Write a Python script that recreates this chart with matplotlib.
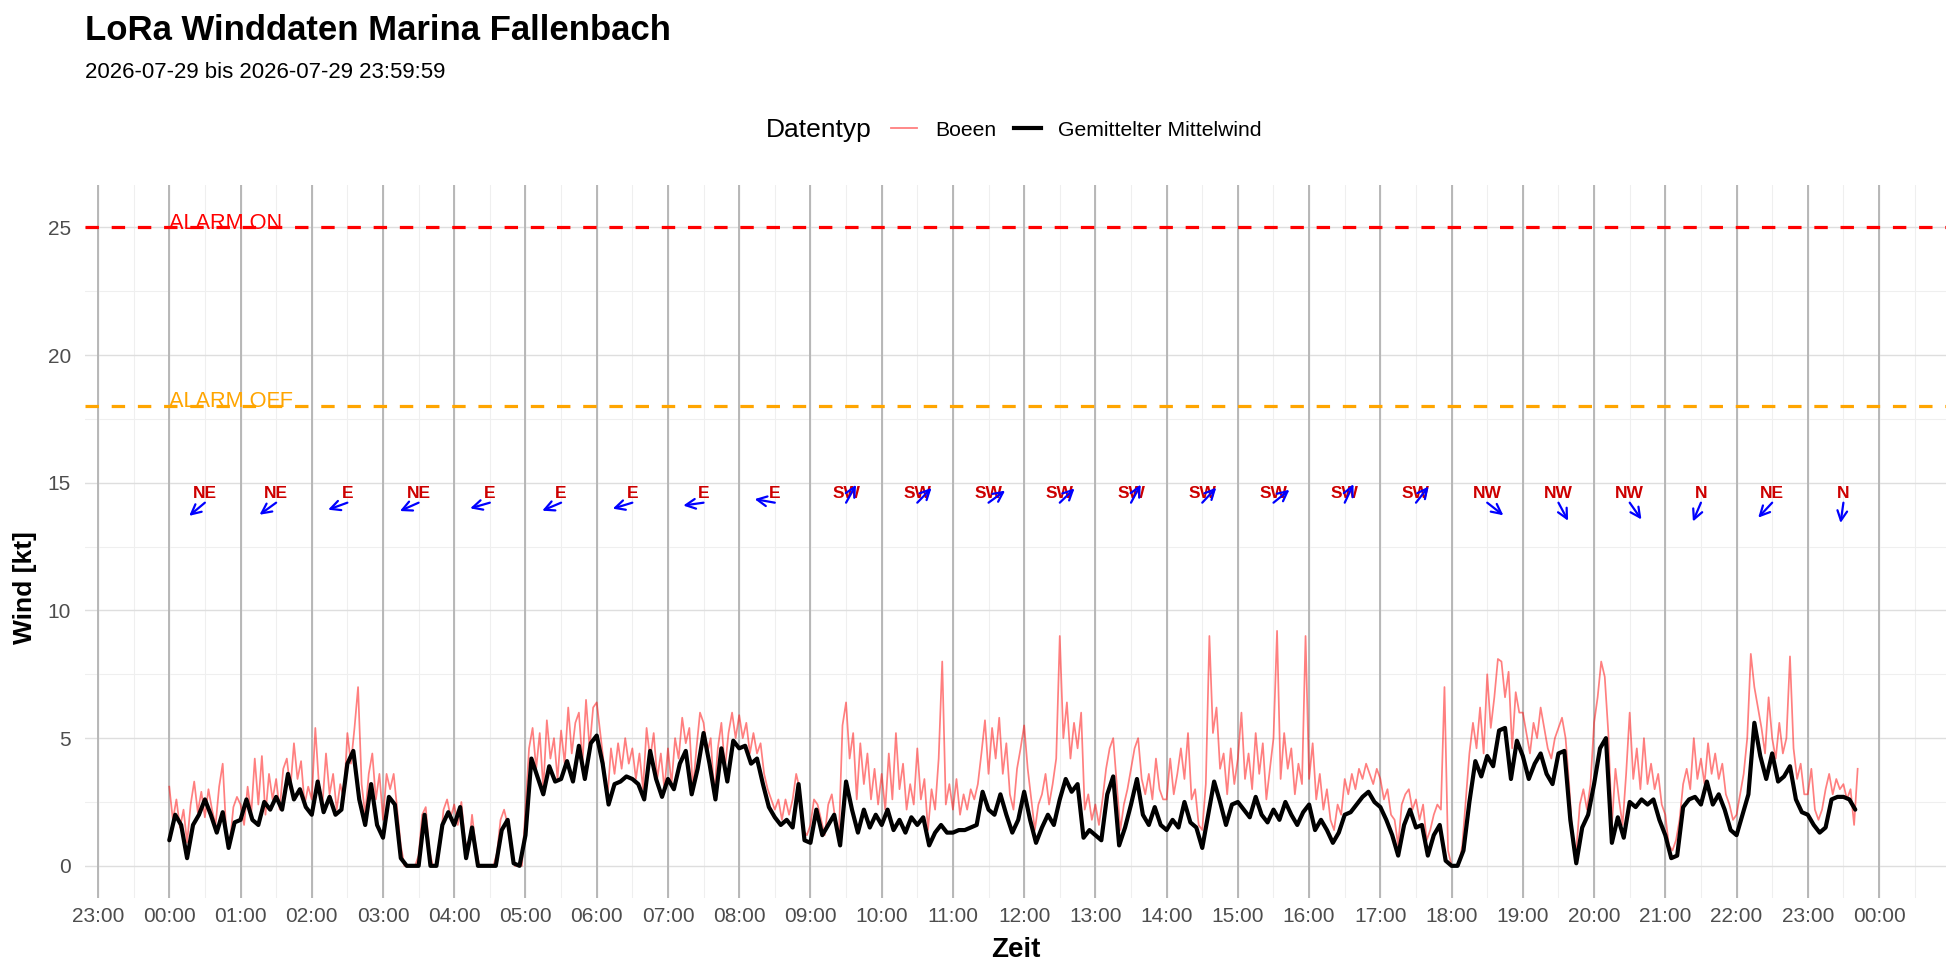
import numpy as np
import matplotlib
matplotlib.use("Agg")
import matplotlib.pyplot as plt
from matplotlib.lines import Line2D

plt.rcParams['font.family'] = ['Liberation Sans', 'DejaVu Sans']

# ---------------- data ----------------
title = "LoRa Winddaten Marina Fallenbach"
subtitle = "2026-07-29 bis 2026-07-29 23:59:59"
x_label = "Zeit"
y_label = "Wind [kt]"
legend_title = "Datentyp"
series_names = ["Boeen", "Gemittelter Mittelwind"]

tick_hours = list(range(-1, 25))
tick_labels = ["23:00", "00:00", "01:00", "02:00", "03:00", "04:00", "05:00",
               "06:00", "07:00", "08:00", "09:00", "10:00", "11:00", "12:00",
               "13:00", "14:00", "15:00", "16:00", "17:00", "18:00", "19:00",
               "20:00", "21:00", "22:00", "23:00", "00:00"]
y_ticks = [0, 5, 10, 15, 20, 25]

alarm_levels = [25, 18]
alarm_labels = ["ALARM ON", "ALARM OFF"]
alarm_colors = ["#FF0000", "#FFA500"]

dir_hours = [h + 0.5 for h in range(24)]
dir_labels = ["NE", "NE", "E", "NE", "E", "E", "E", "E", "E",
              "SW", "SW", "SW", "SW", "SW", "SW", "SW", "SW", "SW",
              "NW", "NW", "NW", "N", "NE", "N"]
dir_degrees = [50, 54, 70, 66, 74, 67, 73, 82, 100,
               209, 224, 234, 226, 208, 223, 231, 205, 218,
               308, 332, 325, 23, 43, 8]
dir_label_y = 14.39
arrow_y = 14.22

mean_step_min = 5
mean_wind = [
    1.0, 2.0, 1.6, 0.3, 1.6, 2.0, 2.6, 2.0, 1.3, 2.1, 0.7, 1.7,
    1.8, 2.6, 1.8, 1.6, 2.5, 2.2, 2.7, 2.2, 3.6, 2.6, 3.0, 2.3,
    2.0, 3.3, 2.1, 2.7, 2.0, 2.2, 4.0, 4.5, 2.6, 1.6, 3.2, 1.6,
    1.1, 2.7, 2.4, 0.3, 0.0, 0.0, 0.0, 2.0, 0.0, 0.0, 1.6, 2.1,
    1.6, 2.3, 0.3, 1.5, 0.0, 0.0, 0.0, 0.0, 1.4, 1.8, 0.1, 0.0,
    1.2, 4.2, 3.5, 2.8, 3.9, 3.3, 3.4, 4.1, 3.3, 4.7, 3.4, 4.8,
    5.1, 4.0, 2.4, 3.2, 3.3, 3.5, 3.4, 3.2, 2.6, 4.5, 3.4, 2.7,
    3.4, 3.0, 4.0, 4.5, 2.8, 3.8, 5.2, 4.0, 2.6, 4.6, 3.3, 4.9,
    4.6, 4.7, 4.0, 4.2, 3.2, 2.3, 1.9, 1.6, 1.8, 1.5, 3.2, 1.0,
    0.9, 2.2, 1.2, 1.6, 2.0, 0.8, 3.3, 2.2, 1.3, 2.2, 1.5, 2.0,
    1.6, 2.2, 1.4, 1.8, 1.3, 1.9, 1.6, 1.9, 0.8, 1.3, 1.6, 1.3,
    1.3, 1.4, 1.4, 1.5, 1.6, 2.9, 2.2, 2.0, 2.8, 2.0, 1.3, 1.8,
    2.9, 1.8, 0.9, 1.5, 2.0, 1.6, 2.6, 3.4, 2.9, 3.2, 1.1, 1.4,
    1.2, 1.0, 2.8, 3.5, 0.8, 1.5, 2.4, 3.4, 2.0, 1.6, 2.3, 1.6,
    1.4, 1.8, 1.5, 2.5, 1.7, 1.5, 0.7, 2.0, 3.3, 2.5, 1.6, 2.4,
    2.5, 2.2, 1.9, 2.7, 2.0, 1.7, 2.2, 1.8, 2.5, 2.0, 1.6, 2.1,
    2.4, 1.4, 1.8, 1.4, 0.9, 1.3, 2.0, 2.1, 2.4, 2.7, 2.9, 2.5,
    2.3, 1.8, 1.2, 0.4, 1.6, 2.2, 1.5, 1.6, 0.4, 1.2, 1.6, 0.2,
    0.0, 0.0, 0.6, 2.5, 4.1, 3.5, 4.3, 3.9, 5.3, 5.4, 3.4, 4.9,
    4.3, 3.4, 4.0, 4.4, 3.6, 3.2, 4.4, 4.5, 1.8, 0.1, 1.5, 2.0,
    3.2, 4.6, 5.0, 0.9, 1.9, 1.1, 2.5, 2.3, 2.6, 2.4, 2.6, 1.8,
    1.2, 0.3, 0.4, 2.3, 2.6, 2.7, 2.4, 3.3, 2.4, 2.8, 2.2, 1.4,
    1.2, 2.0, 2.8, 5.6, 4.3, 3.4, 4.4, 3.3, 3.5, 3.9, 2.6, 2.1,
    2.0, 1.6, 1.3, 1.5, 2.6, 2.7, 2.7, 2.6, 2.2,
]

gust_step_min = 3
gusts = [
    3.1, 1.8, 2.6, 1.5, 2.2, 0.9, 2.4, 3.3, 2.1, 2.9, 1.9, 3.0, 2.2, 1.6, 3.1, 4.0, 1.3, 0.9, 2.3, 2.7,
    2.4, 1.6, 3.1, 2.0, 4.2, 2.4, 4.3, 2.0, 3.6, 2.6, 3.4, 2.2, 3.8, 4.2, 3.0, 4.8, 3.4, 4.1, 2.4, 3.1,
    2.6, 5.4, 3.2, 2.4, 4.4, 2.8, 3.6, 2.2, 3.2, 2.6, 5.2, 4.0, 5.4, 7.0, 3.2, 2.0, 3.6, 4.4, 2.6, 3.6,
    1.8, 3.6, 3.0, 3.6, 2.2, 0.8, 0.0, 0.0, 0.0, 0.0, 0.4, 2.0, 2.3, 0.6, 0.0, 0.0, 0.8, 2.2, 2.6, 1.9,
    2.4, 1.6, 2.5, 1.0, 0.6, 2.0, 0.8, 0.0, 0.0, 0.0, 0.0, 0.0, 0.5, 1.8, 2.2, 1.6, 0.6, 0.0, 0.0, 0.0,
    2.2, 4.6, 5.4, 3.8, 5.2, 3.0, 5.7, 4.2, 5.0, 3.4, 5.3, 4.0, 6.2, 4.4, 5.6, 6.0, 4.0, 6.5, 4.6, 6.2,
    6.4, 5.2, 4.0, 2.6, 4.6, 3.6, 4.8, 3.8, 5.0, 4.0, 4.6, 3.4, 4.4, 3.0, 5.4, 4.2, 5.2, 3.4, 4.4, 3.0,
    4.6, 3.2, 5.0, 4.2, 5.8, 4.8, 5.4, 3.0, 4.6, 6.0, 5.6, 4.4, 5.0, 2.8, 4.6, 5.6, 3.8, 5.2, 6.0, 5.0,
    5.9, 5.0, 5.6, 4.4, 5.2, 4.4, 4.8, 3.6, 3.0, 2.6, 2.2, 2.6, 1.8, 2.6, 2.0, 2.6, 3.6, 3.0, 1.4, 1.2,
    1.6, 2.6, 2.4, 1.8, 1.2, 2.4, 2.8, 1.8, 1.2, 5.5, 6.4, 4.2, 5.2, 2.6, 4.8, 3.2, 4.4, 2.6, 3.8, 2.4,
    3.6, 2.2, 4.4, 2.6, 5.2, 3.0, 4.0, 2.2, 3.2, 2.4, 4.6, 2.6, 3.4, 1.4, 3.0, 2.2, 4.2, 8.0, 2.4, 3.2,
    2.2, 3.4, 2.0, 2.8, 2.2, 3.0, 2.6, 3.2, 4.4, 5.7, 3.6, 5.4, 4.2, 5.8, 3.6, 4.8, 2.8, 2.2, 3.8, 4.6,
    5.5, 3.8, 2.6, 1.4, 2.4, 2.8, 3.6, 2.4, 3.2, 4.2, 9.0, 5.0, 6.4, 4.2, 5.6, 4.6, 6.0, 2.2, 2.8, 1.8,
    2.4, 1.6, 2.6, 3.8, 4.6, 5.0, 3.2, 1.4, 2.4, 3.0, 3.8, 4.6, 5.0, 3.4, 2.8, 3.6, 2.6, 4.2, 3.0, 2.6,
    2.6, 4.2, 2.8, 3.6, 4.6, 3.4, 5.2, 2.6, 3.0, 1.6, 1.4, 3.2, 9.0, 5.2, 6.2, 3.8, 4.4, 2.8, 4.6, 3.2,
    4.2, 6.0, 3.4, 4.4, 3.0, 5.2, 3.6, 4.8, 2.6, 3.8, 5.0, 9.2, 3.4, 5.2, 3.8, 4.6, 2.8, 4.0, 3.2, 9.0,
    3.4, 4.8, 2.6, 3.6, 2.2, 3.0, 1.8, 1.4, 2.4, 2.0, 3.4, 2.8, 3.6, 3.0, 3.8, 3.4, 4.0, 3.6, 3.2, 3.8,
    3.4, 2.6, 3.0, 2.0, 1.8, 0.8, 2.4, 2.8, 3.0, 2.2, 2.6, 1.8, 2.4, 1.0, 1.4, 2.0, 2.4, 2.2, 7.0, 0.6,
    0.0, 0.0, 0.0, 0.8, 2.6, 4.4, 5.6, 4.6, 6.2, 4.4, 7.5, 5.4, 6.6, 8.1, 8.0, 6.6, 7.6, 4.6, 6.8, 6.0,
    6.0, 5.2, 4.4, 5.6, 5.0, 6.2, 5.4, 4.6, 4.2, 5.0, 5.4, 5.8, 5.0, 3.2, 1.0, 0.6, 2.4, 3.0, 2.2, 3.2,
    5.6, 6.6, 8.0, 7.4, 5.2, 1.6, 3.8, 2.6, 1.6, 3.6, 6.0, 3.4, 4.6, 3.0, 5.0, 3.2, 4.0, 3.0, 3.6, 2.4,
    2.0, 0.8, 0.6, 1.0, 1.8, 3.2, 3.8, 3.0, 5.0, 3.4, 4.2, 3.2, 4.8, 3.6, 4.4, 3.4, 4.0, 2.8, 2.4, 1.8,
    2.0, 2.8, 3.6, 5.0, 8.3, 7.0, 6.2, 5.4, 4.4, 6.6, 5.0, 4.2, 5.6, 4.4, 5.0, 8.2, 4.6, 3.4, 4.0, 2.8,
    2.8, 3.8, 2.2, 1.8, 2.2, 3.0, 3.6, 2.8, 3.4, 3.0, 3.2, 2.6, 3.0, 1.6, 3.8,
]

# ---------------- figure ----------------
W_PX, H_PX, DPI = 1960, 980, 100
fig = plt.figure(figsize=(W_PX / DPI, H_PX / DPI), dpi=DPI)
ax_left, ax_right, ax_top, ax_bottom = 85, 1946, 185, 898   # pixel box of panel
ax = fig.add_axes([ax_left / W_PX, 1 - ax_bottom / H_PX,
                   (ax_right - ax_left) / W_PX, (ax_bottom - ax_top) / H_PX])
xlim = (-1.183, 24.94)
ylim = (-1.26, 26.66)
ax.set_xlim(*xlim)
ax.set_ylim(*ylim)
for s in ax.spines.values():
    s.set_visible(False)

ax.set_xticks(tick_hours)
ax.set_xticklabels(tick_labels)
ax.set_xticks(np.arange(-0.5, 25, 1.0), minor=True)
ax.set_yticks(y_ticks)
ax.set_yticks([2.5, 7.5, 12.5, 17.5, 22.5], minor=True)
ax.grid(which='major', color='#dedede', lw=1.0, zorder=0)
ax.grid(which='minor', color='#efefef', lw=0.8, zorder=0)
ax.set_axisbelow(True)
ax.tick_params(which='both', length=0)
ax.tick_params(axis='x', labelsize=15, labelcolor='#4d4d4d', pad=6.5)
ax.tick_params(axis='y', labelsize=15, labelcolor='#4d4d4d', pad=10)

for h in tick_hours:
    ax.axvline(h, color='#b3b3b3', lw=1.3, zorder=1)

for lvl, lab, col in zip(alarm_levels, alarm_labels, alarm_colors):
    ax.axhline(lvl, color=col, lw=2.3, dashes=(4.2, 4.0), zorder=5)
    ax.text(0, lvl - 0.05, lab, color=col, fontsize=15.7, ha='left', va='baseline', zorder=4)

gust_t = np.arange(len(gusts)) * gust_step_min / 60.0
mean_t = np.arange(len(mean_wind)) * mean_step_min / 60.0
ax.plot(gust_t, gusts, color='#FF0000', alpha=0.5, lw=1.25, zorder=3)
ax.plot(mean_t, mean_wind, color='black', lw=3.0, zorder=4,
        solid_joinstyle='round', solid_capstyle='round')

# direction labels and arrows
px_per_x = (ax_right - ax_left) / (xlim[1] - xlim[0])
px_per_y = (ax_bottom - ax_top) / (ylim[1] - ylim[0])
arrow_len_px = 20.5
for xh, lab, deg in zip(dir_hours, dir_labels, dir_degrees):
    ax.text(xh, dir_label_y, lab, color='#CD0000', fontsize=12.5, fontweight='bold',
            ha='center', va='baseline', zorder=6)
    th = np.deg2rad(deg)
    dx = -np.sin(th) * arrow_len_px / px_per_x
    dy = -np.cos(th) * arrow_len_px / px_per_y
    ax.annotate('', xy=(xh + dx, arrow_y + dy), xytext=(xh, arrow_y),
                arrowprops=dict(arrowstyle='->,head_length=0.5,head_width=0.25',
                                color='#0000FF', lw=1.6, shrinkA=0, shrinkB=0,
                                mutation_scale=14),
                zorder=7)

# titles
fig.text(85 / W_PX, 1 - 40 / H_PX, title, fontsize=25, fontweight='bold',
         ha='left', va='baseline')
fig.text(85 / W_PX, 1 - 77.5 / H_PX, subtitle, fontsize=16, ha='left', va='baseline')

# axis titles
fig.text((ax_left + ax_right) / 2 / W_PX, 1 - 950 / H_PX, x_label, fontsize=20,
         fontweight='bold', ha='center', va='center')
fig.text(25 / W_PX, 1 - 588 / H_PX, y_label, fontsize=19,
         fontweight='bold', ha='center', va='center', rotation=90)

# legend (manual, horizontal with title on the left)
leg_y = 1 - 128 / H_PX
fig.text(766 / W_PX, 1 - 137.5 / H_PX, legend_title, fontsize=19, ha='left', va='baseline')
fig.add_artist(Line2D([890.7 / W_PX, 916.7 / W_PX], [leg_y, leg_y], transform=fig.transFigure,
                      color='#FF0000', alpha=0.5, lw=1.3))
fig.text(935 / W_PX, 1 - 135.5 / H_PX, series_names[0], fontsize=15.2, ha='left', va='baseline')
fig.add_artist(Line2D([1014 / W_PX, 1040.7 / W_PX], [leg_y, leg_y], transform=fig.transFigure,
                      color='black', lw=3.0))
fig.text(1058 / W_PX, 1 - 135.5 / H_PX, series_names[1], fontsize=15.2, ha='left', va='baseline')

fig.savefig("out.png", dpi=DPI)
